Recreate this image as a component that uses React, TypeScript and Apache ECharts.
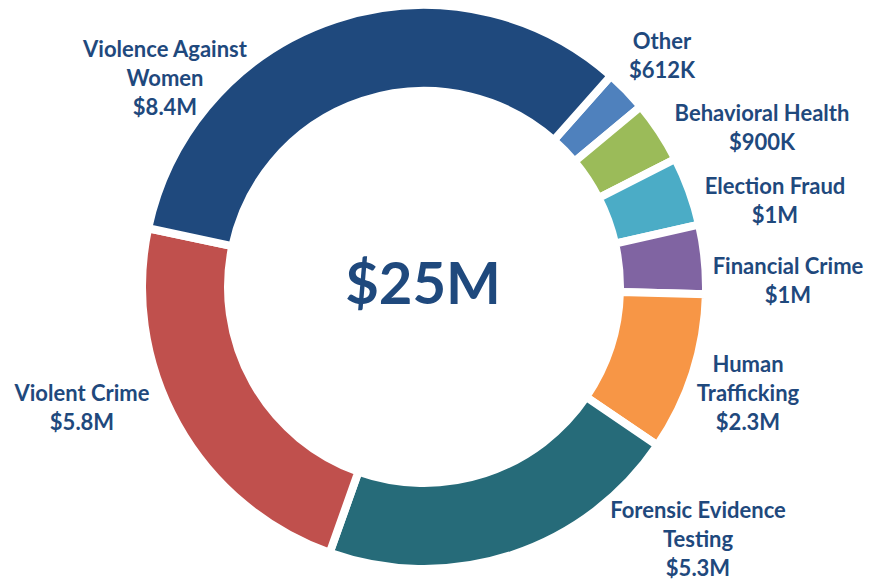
import React, { useEffect, useRef } from "react";
import * as echarts from "echarts";

const categories = [
  "Other",
  "Behavioral Health",
  "Election Fraud",
  "Financial Crime",
  "Human\nTrafficking",
  "Forensic Evidence\nTesting",
  "Violent Crime",
  "Violence Against\nWomen",
];
// values in $ millions
const values = [0.612, 0.9, 1, 1, 2.3, 5.3, 5.8, 8.4];
const colors = [
  "#4F81BD",
  "#9BBB59",
  "#4BACC6",
  "#8064A2",
  "#F79646",
  "#266B79",
  "#C0504D",
  "#1F497D",
];
// label centre positions (px) for each slice
const labelPos: [number, number][] = [
  [662, 55],
  [762, 127],
  [775, 200],
  [788, 280],
  [748, 392],
  [698, 538],
  [82, 407],
  [165, 77],
];

const TEXT = "#1F497D";
const FONT = "Lato, 'Open Sans', sans-serif";

function fmt(v: number): string {
  return v < 1 ? `$${Math.round(v * 1000)}K` : `$${v}M`;
}

export default function App() {
  const ref = useRef<HTMLDivElement>(null);
  useEffect(() => {
    document.body.style.margin = "0";
    if (!ref.current) return;
    const chart = echarts.init(ref.current, null, { renderer: "svg" });
    const total = values.reduce((a, b) => a + b, 0);
    const bw = 8;
    chart.setOption({
      animation: false,
      backgroundColor: "#ffffff",
      graphic: [
        {
          type: "text",
          x: 423,
          y: 281,
          style: {
            text: `$${Math.round(total)}M`,
            fill: TEXT,
            font: `bold 58px ${FONT}`,
            textAlign: "center",
            textVerticalAlign: "middle",
          },
        },
      ],
      series: [
        {
          type: "pie",
          center: [424, 287],
          radius: [200 - bw / 2, 278 + bw / 2],
          startAngle: 48.5,
          clockwise: true,
          avoidLabelOverlap: false,
          itemStyle: { borderColor: "#ffffff", borderWidth: bw },
          label: {
            show: true,
            position: "outside",
            formatter: (p: any) => `${p.name}\n${fmt(p.value)}`,
            color: TEXT,
            fontFamily: FONT,
            fontWeight: "bold",
            fontSize: 22,
            lineHeight: 29,
            align: "center",
          },
          labelLine: { show: false },
          labelLayout: (p: any) => {
            const pos = labelPos[p.dataIndex];
            return {
              x: pos[0],
              y: pos[1],
              align: "center",
              verticalAlign: "middle",
              hideOverlap: false,
            };
          },
          emphasis: { disabled: true },
          data: categories.map((c, i) => ({
            name: c,
            value: values[i],
            itemStyle: { color: colors[i] },
          })),
        },
      ],
    });
    return () => chart.dispose();
  }, []);
  return <div ref={ref} style={{ width: 879, height: 582 }} />;
}
